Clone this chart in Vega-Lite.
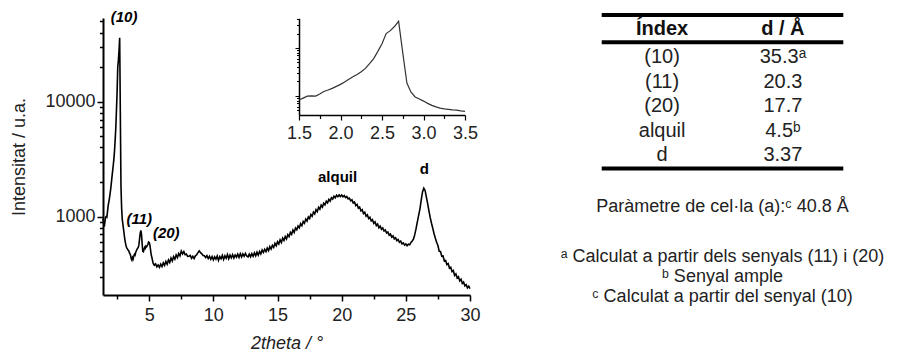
{
  "$schema": "https://vega.github.io/schema/vega-lite/v6.json",
  "autosize": "none",
  "width": 815,
  "height": 277,
  "padding": {"left": 103, "top": 18, "right": 0, "bottom": 59},
  "background": "#ffffff",
  "config": {"view": {"stroke": null}, "font": "Liberation Sans"},
  "datasets": {
    "xrd": [
      {"t":1.4,"I":960},{"t":1.45,"I":880},{"t":1.5,"I":820},{"t":1.55,"I":900},{"t":1.6,"I":990},{"t":1.65,"I":1000},{"t":1.7,"I":990},{"t":1.75,"I":1100},{"t":1.8,"I":1240},{"t":1.85,"I":1330},{"t":1.9,"I":1440},{"t":1.95,"I":1580},{"t":2.0,"I":1740},{"t":2.05,"I":1960},{"t":2.1,"I":2220},{"t":2.15,"I":2500},{"t":2.2,"I":2800},{"t":2.25,"I":3200},{"t":2.3,"I":3750},{"t":2.35,"I":4700},{"t":2.4,"I":6000},{"t":2.45,"I":8500},{"t":2.5,"I":12300},{"t":2.55,"I":20000},{"t":2.6,"I":23000},{"t":2.65,"I":28000},{"t":2.7,"I":36000},{"t":2.75,"I":8000},{"t":2.8,"I":1850},{"t":2.85,"I":1200},{"t":2.9,"I":950},{"t":2.95,"I":860},{"t":3.0,"I":780},{"t":3.05,"I":700},{"t":3.1,"I":635},{"t":3.15,"I":590},{"t":3.2,"I":556},{"t":3.25,"I":535},{"t":3.3,"I":525},{"t":3.35,"I":512},{"t":3.4,"I":505},{"t":3.45,"I":488},{"t":3.5,"I":475},
      {"t":3.55,"I":460},{"t":3.6,"I":430},{"t":3.65,"I":418},{"t":3.7,"I":440},{"t":3.75,"I":428},{"t":3.8,"I":455},{"t":3.85,"I":470},{"t":3.9,"I":462},{"t":3.95,"I":490},{"t":4.0,"I":505},{"t":4.05,"I":520},{"t":4.1,"I":530},{"t":4.15,"I":540},{"t":4.2,"I":570},{"t":4.25,"I":640},{"t":4.3,"I":720},{"t":4.35,"I":760},{"t":4.4,"I":700},{"t":4.45,"I":580},{"t":4.5,"I":500},{"t":4.55,"I":495},{"t":4.6,"I":520},{"t":4.65,"I":540},{"t":4.7,"I":530},{"t":4.75,"I":555},{"t":4.8,"I":548},{"t":4.85,"I":560},{"t":4.9,"I":575},{"t":4.95,"I":600},{"t":5.0,"I":595},{"t":5.05,"I":570},{"t":5.1,"I":520},{"t":5.15,"I":470},{"t":5.2,"I":445},{"t":5.25,"I":420},{"t":5.3,"I":395},{"t":5.35,"I":385},{"t":5.4,"I":378},{"t":5.5,"I":388},{"t":5.6,"I":366},{"t":5.7,"I":380},{"t":5.8,"I":362},{"t":5.9,"I":386},{"t":6.0,"I":368},{"t":6.1,"I":396},{"t":6.2,"I":376},{"t":6.3,"I":408},{"t":6.4,"I":386},{"t":6.5,"I":420},{"t":6.6,"I":398},{"t":6.7,"I":436},{"t":6.8,"I":412},{"t":6.9,"I":448},{"t":7.0,"I":426},{"t":7.1,"I":464},{"t":7.2,"I":440},{"t":7.3,"I":478},{"t":7.4,"I":456},{"t":7.5,"I":502},{"t":7.6,"I":474},{"t":7.7,"I":496},{"t":7.8,"I":466},{"t":7.9,"I":472},{"t":8.0,"I":450},{"t":8.1,"I":452},{"t":8.2,"I":460},{"t":8.3,"I":434},{"t":8.4,"I":452},{"t":8.5,"I":432},{"t":8.6,"I":456},{"t":8.7,"I":466},{"t":8.8,"I":486},{"t":8.9,"I":504},{"t":9.0,"I":486},{"t":9.1,"I":474},{"t":9.2,"I":458},{"t":9.3,"I":456},{"t":9.4,"I":440},{"t":9.5,"I":458},{"t":9.6,"I":432},{"t":9.7,"I":452},{"t":9.8,"I":426},{"t":9.9,"I":450},{"t":10.0,"I":420},{"t":10.1,"I":446},{"t":10.2,"I":426},{"t":10.3,"I":454},{"t":10.4,"I":416},{"t":10.5,"I":448},{"t":10.6,"I":430},{"t":10.7,"I":460},{"t":10.8,"I":424},{"t":10.9,"I":456},{"t":11.0,"I":434},{"t":11.1,"I":468},{"t":11.2,"I":430},{"t":11.3,"I":462},{"t":11.4,"I":438},{"t":11.5,"I":466},{"t":11.6,"I":436},{"t":11.7,"I":464},{"t":11.8,"I":444},{"t":11.9,"I":472},{"t":12.0,"I":442},{"t":12.1,"I":476},{"t":12.2,"I":446},{"t":12.3,"I":474},{"t":12.4,"I":452},{"t":12.5,"I":478},{"t":12.6,"I":454},{"t":12.7,"I":446},{"t":12.8,"I":472},{"t":12.9,"I":448},{"t":13.0,"I":476},{"t":13.1,"I":452},{"t":13.2,"I":484},{"t":13.3,"I":456},{"t":13.4,"I":490},
      {"t":13.5,"I":462},{"t":13.6,"I":498},{"t":13.7,"I":474},{"t":13.8,"I":512},{"t":13.9,"I":488},{"t":14.0,"I":520},{"t":14.1,"I":496},{"t":14.2,"I":532},{"t":14.3,"I":505},{"t":14.4,"I":548},{"t":14.5,"I":522},{"t":14.6,"I":562},{"t":14.7,"I":540},{"t":14.8,"I":585},{"t":14.9,"I":558},{"t":15.0,"I":604},{"t":15.1,"I":578},{"t":15.2,"I":628},{"t":15.3,"I":596},{"t":15.4,"I":650},{"t":15.5,"I":620},{"t":15.6,"I":672},{"t":15.7,"I":640},{"t":15.8,"I":698},{"t":15.9,"I":670},{"t":16.0,"I":728},{"t":16.1,"I":700},{"t":16.2,"I":765},{"t":16.3,"I":730},{"t":16.4,"I":795},{"t":16.5,"I":768},{"t":16.6,"I":828},{"t":16.7,"I":800},{"t":16.8,"I":868},{"t":16.9,"I":835},{"t":17.0,"I":908},{"t":17.1,"I":875},{"t":17.2,"I":952},{"t":17.3,"I":915},{"t":17.4,"I":995},{"t":17.5,"I":962},{"t":17.6,"I":1045},{"t":17.7,"I":1008},{"t":17.8,"I":1095},{"t":17.9,"I":1055},{"t":18.0,"I":1150},{"t":18.1,"I":1105},{"t":18.2,"I":1205},{"t":18.3,"I":1160},{"t":18.4,"I":1258},{"t":18.5,"I":1210},{"t":18.6,"I":1310},{"t":18.7,"I":1265},{"t":18.8,"I":1360},{"t":18.9,"I":1315},{"t":19.0,"I":1410},{"t":19.1,"I":1365},{"t":19.2,"I":1462},{"t":19.3,"I":1420},{"t":19.4,"I":1505},{"t":19.5,"I":1460},{"t":19.6,"I":1535},{"t":19.7,"I":1490},{"t":19.8,"I":1545},{"t":19.9,"I":1495},{"t":20.0,"I":1540},{"t":20.1,"I":1490},{"t":20.2,"I":1525},{"t":20.3,"I":1465},{"t":20.4,"I":1495},{"t":20.5,"I":1425},{"t":20.6,"I":1450},{"t":20.7,"I":1372},{"t":20.8,"I":1400},{"t":20.9,"I":1315},{"t":21.0,"I":1340},{"t":21.1,"I":1250},{"t":21.2,"I":1280},{"t":21.3,"I":1185},{"t":21.4,"I":1212},{"t":21.5,"I":1122},{"t":21.6,"I":1148},{"t":21.7,"I":1062},{"t":21.8,"I":1090},{"t":21.9,"I":1008},{"t":22.0,"I":1038},{"t":22.1,"I":962},{"t":22.2,"I":988},{"t":22.3,"I":918},{"t":22.4,"I":942},{"t":22.5,"I":875},{"t":22.6,"I":902},{"t":22.7,"I":836},{"t":22.8,"I":862},{"t":22.9,"I":800},{"t":23.0,"I":828},{"t":23.1,"I":775},{"t":23.2,"I":796},{"t":23.3,"I":750},{"t":23.4,"I":766},{"t":23.5,"I":720},{"t":23.6,"I":735},{"t":23.7,"I":690},{"t":23.8,"I":705},{"t":23.9,"I":664},{"t":24.0,"I":680},{"t":24.1,"I":640},{"t":24.2,"I":655},{"t":24.3,"I":618},{"t":24.4,"I":632},{"t":24.5,"I":598},{"t":24.6,"I":612},{"t":24.7,"I":580},{"t":24.8,"I":590},{"t":24.9,"I":565},{"t":25.0,"I":578},{"t":25.1,"I":558},{"t":25.2,"I":575},{"t":25.3,"I":570},{"t":25.4,"I":596},{"t":25.5,"I":612},{"t":25.6,"I":640},{"t":25.7,"I":700},{"t":25.8,"I":790},{"t":25.9,"I":905},{"t":26.0,"I":1030},{"t":26.1,"I":1170},{"t":26.2,"I":1400},{"t":26.3,"I":1640},{"t":26.4,"I":1770},{"t":26.5,"I":1690},{"t":26.6,"I":1480},{"t":26.7,"I":1300},{"t":26.8,"I":1120},{"t":26.9,"I":980},{"t":27.0,"I":875},{"t":27.1,"I":790},{"t":27.2,"I":710},{"t":27.3,"I":648},{"t":27.4,"I":598},{"t":27.5,"I":560},{"t":27.6,"I":500},{"t":27.7,"I":498},{"t":27.8,"I":452},{"t":27.9,"I":455},{"t":28.0,"I":412},{"t":28.1,"I":415},{"t":28.2,"I":382},{"t":28.3,"I":390},{"t":28.4,"I":356},{"t":28.5,"I":362},{"t":28.6,"I":332},{"t":28.7,"I":340},{"t":28.8,"I":308},{"t":28.9,"I":318},{"t":29.0,"I":292},{"t":29.1,"I":300},{"t":29.2,"I":276},{"t":29.3,"I":285},{"t":29.4,"I":262},{"t":29.5,"I":270},{"t":29.6,"I":250},{"t":29.7,"I":256},{"t":29.8,"I":240},{"t":29.9,"I":248},{"t":30.0,"I":236}
    ],
    "peaksHkl": [
      {"t": 3.04, "I": 54500, "label": "(10)"},
      {"t": 4.23, "I": 950, "label": "(11)"},
      {"t": 6.33, "I": 720, "label": "(20)"}
    ],
    "peaksOther": [
      {"t": 19.68, "I": 2230, "label": "alquil"},
      {"t": 26.44, "I": 2600, "label": "d"}
    ],
    "tableRules": [{"r": -0.73}, {"r": 0.385}, {"r": 5.55}],
    "tableHeader": [
      {"c": 0.25, "r": -0.15, "text": "Índex"},
      {"c": 0.75, "r": -0.15, "text": "d / Å"}
    ],
    "tableCells": [
      {"c": 0.25, "r": 1, "text": "(10)"}, {"c": 0.75, "r": 1, "text": "35.3ᵃ"},
      {"c": 0.25, "r": 2, "text": "(11)"}, {"c": 0.75, "r": 2, "text": "20.3"},
      {"c": 0.25, "r": 3, "text": "(20)"}, {"c": 0.75, "r": 3, "text": "17.7"},
      {"c": 0.25, "r": 4, "text": "alquil"}, {"c": 0.75, "r": 4, "text": "4.5ᵇ"},
      {"c": 0.25, "r": 5, "text": "d"}, {"c": 0.75, "r": 5, "text": "3.37"}
    ],
    "notes": [
      {"c": 0.5, "r": 7.12, "text": "Paràmetre de cel·la (a):ᶜ 40.8 Å"},
      {"c": 0.5, "r": 9.17, "text": "ᵃ Calculat a partir dels senyals (11) i (20)"},
      {"c": 0.5, "r": 9.99, "text": "ᵇ Senyal ample"},
      {"c": 0.5, "r": 10.81, "text": "ᶜ Calculat a partir del senyal (10)"}
    ]
  },
  "layer": [
    {
      "layer": [
        {
          "data": {"name": "xrd"},
          "mark": {"type": "line", "color": "#000000", "strokeWidth": 1.6, "clip": false},
          "encoding": {
            "x": {
              "field": "t", "type": "quantitative",
              "scale": {"domain": [1.4, 30], "range": [0, 367], "nice": false, "zero": false},
              "axis": {
                "orient": "bottom",
                "title": "2theta / °",
                "values": [2.5, 5, 7.5, 10, 12.5, 15, 17.5, 20, 22.5, 25, 27.5, 30],
                "labelExpr": "datum.value % 5 === 0 ? datum.label : ''",
                "tickSize": {"condition": {"test": "datum.value % 5 === 0", "value": 6}, "value": 4},
                "grid": false, "labelFontSize": 18, "labelColor": "#222222", "labelPadding": 5,
                "labelFlush": false, "labelOverlap": false,
                "domainColor": "#000000", "domainWidth": 2, "tickColor": "#000000", "tickWidth": 1.5,
                "titleFontSize": 18, "titleFontWeight": "normal", "titleColor": "#222222", "titlePadding": 10, "titleFontStyle": "italic"
              }
            },
            "y": {
              "field": "I", "type": "quantitative",
              "scale": {"type": "log", "domain": [208, 53500], "nice": false},
              "axis": {
                "orient": "left",
                "title": "Intensitat / u.a.",
                "values": [300, 400, 500, 600, 700, 800, 900, 1000, 2000, 3000, 4000, 5000, 6000, 7000, 8000, 9000, 10000, 20000, 30000, 40000, 50000],
                "labelExpr": "datum.value === 1000 || datum.value === 10000 ? datum.value + '' : ''",
                "tickSize": {"condition": {"test": "datum.value === 1000 || datum.value === 10000", "value": 6}, "value": 3.5},
                "grid": false, "labelFontSize": 18, "labelColor": "#222222", "labelPadding": 2,
                "labelOverlap": false, "labelFlush": false,
                "domainColor": "#000000", "domainWidth": 2, "tickColor": "#000000", "tickWidth": 1.5,
                "titleFontSize": 18, "titleFontWeight": "normal", "titleColor": "#222222", "titlePadding": 16
              }
            }
          }
        },
        {
          "data": {"name": "peaksHkl"},
          "mark": {"type": "text", "fontSize": 15, "fontWeight": "bold", "fontStyle": "italic", "color": "#000000", "align": "center", "baseline": "middle", "clip": false},
          "encoding": {
            "x": {"field": "t", "type": "quantitative"},
            "y": {"field": "I", "type": "quantitative"},
            "text": {"field": "label"}
          }
        },
        {
          "data": {"name": "peaksOther"},
          "mark": {"type": "text", "fontSize": 15, "fontWeight": "bold", "color": "#000000", "align": "center", "baseline": "middle", "clip": false},
          "encoding": {
            "x": {"field": "t", "type": "quantitative"},
            "y": {"field": "I", "type": "quantitative"},
            "text": {"field": "label"}
          }
        }
      ]
    },
    {
      "data": {"name": "xrd"},
      "transform": [{"filter": "datum.t >= 1.5 && datum.t <= 3.5"}],
      "mark": {"type": "line", "color": "#333333", "strokeWidth": 1.2, "clip": false},
      "encoding": {
        "x": {
          "field": "t", "type": "quantitative",
          "scale": {"domain": [1.5, 3.5], "range": [196, 362], "nice": false, "zero": false},
          "axis": {
            "orient": "bottom", "offset": -180, "title": null,
            "values": [1.5, 1.75, 2, 2.25, 2.5, 2.75, 3, 3.25, 3.5],
            "labelExpr": "(datum.value * 2) % 1 === 0 ? format(datum.value, '.1f') : ''",
            "tickSize": {"condition": {"test": "(datum.value * 2) % 1 === 0", "value": 5}, "value": 3.5},
            "grid": false, "labelFontSize": 18, "labelColor": "#222222", "labelPadding": 4,
            "labelFlush": false, "labelOverlap": false,
            "domainColor": "#000000", "domainWidth": 1.5, "tickColor": "#000000", "tickWidth": 1.2
          }
        },
        "y": {
          "field": "I", "type": "quantitative",
          "scale": {"type": "log", "domain": [400, 41600], "range": [97, 0.3], "nice": false},
          "axis": {
            "orient": "left", "offset": -196, "title": null, "labels": false,
            "values": [500, 600, 700, 800, 900, 1000, 2000, 3000, 4000, 5000, 6000, 7000, 8000, 9000, 10000, 20000, 30000, 40000],
            "tickSize": {"condition": {"test": "datum.value === 1000 || datum.value === 10000", "value": 4}, "value": 2.5},
            "grid": false, "domainColor": "#000000", "domainWidth": 1.5, "tickColor": "#000000", "tickWidth": 1
          }
        }
      }
    },
    {
      "layer": [
        {
          "data": {"name": "tableRules"},
          "mark": {"type": "rule", "color": "#000000", "strokeWidth": 4},
          "encoding": {
            "y": {"field": "r", "type": "quantitative", "scale": {"domain": [1, 5], "range": [39.3, 137], "nice": false, "zero": false}, "axis": null},
            "x": {"datum": 0, "type": "quantitative", "scale": {"domain": [0, 1], "range": [498.7, 740.3], "nice": false, "zero": false}, "axis": null},
            "x2": {"datum": 1}
          }
        },
        {
          "data": {"name": "tableHeader"},
          "mark": {"type": "text", "fontSize": 20, "fontWeight": "bold", "color": "#111111", "align": "center", "baseline": "middle"},
          "encoding": {
            "x": {"field": "c", "type": "quantitative", "scale": {"domain": [0, 1], "range": [498.7, 740.3], "nice": false, "zero": false}, "axis": null},
            "y": {"field": "r", "type": "quantitative", "scale": {"domain": [1, 5], "range": [39.3, 137], "nice": false, "zero": false}, "axis": null},
            "text": {"field": "text"}
          }
        },
        {
          "data": {"name": "tableCells"},
          "mark": {"type": "text", "fontSize": 20, "color": "#222222", "align": "center", "baseline": "middle"},
          "encoding": {
            "x": {"field": "c", "type": "quantitative", "scale": {"domain": [0, 1], "range": [498.7, 740.3], "nice": false, "zero": false}, "axis": null},
            "y": {"field": "r", "type": "quantitative", "scale": {"domain": [1, 5], "range": [39.3, 137], "nice": false, "zero": false}, "axis": null},
            "text": {"field": "text"}
          }
        },
        {
          "data": {"name": "notes"},
          "mark": {"type": "text", "fontSize": 18, "color": "#222222", "align": "center", "baseline": "middle"},
          "encoding": {
            "x": {"field": "c", "type": "quantitative", "scale": {"domain": [0, 1], "range": [498.7, 740.3], "nice": false, "zero": false}, "axis": null},
            "y": {"field": "r", "type": "quantitative", "scale": {"domain": [1, 5], "range": [39.3, 137], "nice": false, "zero": false}, "axis": null},
            "text": {"field": "text"}
          }
        }
      ]
    }
  ],
  "resolve": {"scale": {"x": "independent", "y": "independent"}, "axis": {"x": "independent", "y": "independent"}}
}
